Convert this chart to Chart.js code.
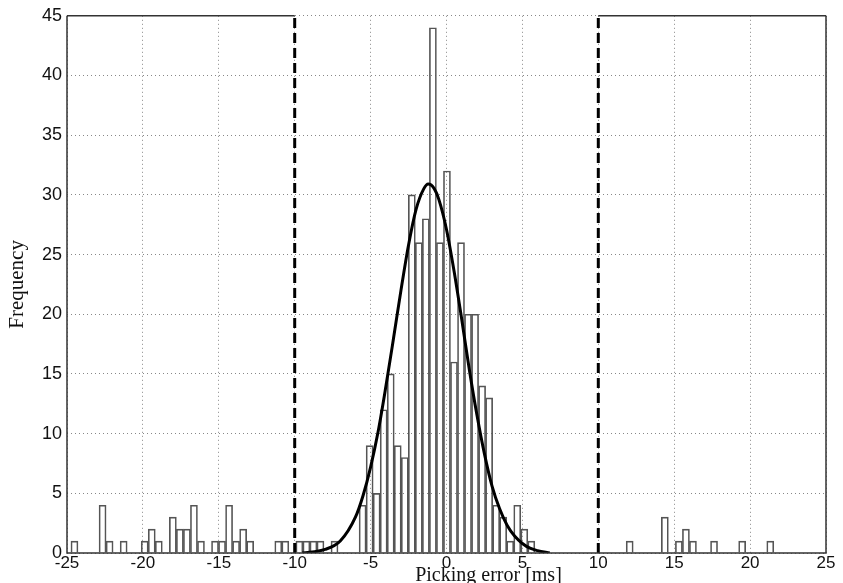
<!DOCTYPE html>
<html><head><meta charset="utf-8">
<script src="https://cdn.jsdelivr.net/npm/chart.js@4/dist/chart.umd.min.js"></script>
<style>html,body{margin:0;padding:0;background:#fff;}</style>
</head><body>
<canvas id="c" width="843" height="583"></canvas>
<script>
// Histogram definition (100 bins) and counts
const histStart = -24.74;
const binWidth = 0.463;
const counts = [
  1,0,0,0,4,1,0,1,0,0,
  1,2,1,0,3,2,2,4,1,0,
  1,1,4,1,2,1,0,0,0,1,
  1,0,1,1,1,1,0,1,0,0,
  0,4,9,5,12,15,9,8,30,26,
  28,44,26,32,16,26,20,20,14,13,
  4,3,1,4,2,1,0,0,0,0,
  0,0,0,0,0,0,0,0,0,1,
  0,0,0,0,3,0,1,2,1,0,
  0,1,0,0,0,1,0,0,0,1
];
// Fitted curve, points
const curveX = [-9.5,-8,-7,-6,-5.5,-5,-4.5,-4,-3.5,-3,-2.5,-2,-1.5,-1.2,-0.8,-0.5,0,0.5,1,1.5,2,2.5,3,3.5,4,4.5,5,5.5,6,6.8];
const curveY = [0.0,0.3,1.0,3.0,4.8,7.2,10.2,13.9,17.9,22.0,25.8,28.8,30.5,30.9,30.5,29.6,27.1,23.6,19.6,15.4,11.6,8.3,5.6,3.7,2.3,1.4,0.8,0.4,0.2,0.0];
// Outlier thresholds (dashed lines)
const thresholds = [-10, 10];
const xRange = [-25, 25];
const yRange = [0, 45];
const tickStep = 5;
const xTitle = 'Picking error [ms]';
const yTitle = 'Frequency';

const barData = counts.map((c, k) => ({x: histStart + (k + 0.5) * binWidth, y: c === 0 ? null : c}));
const lineData = curveX.map((x, i) => ({x, y: curveY[i]}));
const threshSets = thresholds.map(t => ({
  type: 'line',
  data: [{x: t, y: yRange[0]}, {x: t, y: yRange[1]}],
  borderColor: '#000', borderWidth: 3, borderDash: [10, 5],
  pointRadius: 0, fill: false
}));

const framePlugin = {
  id: 'frame',
  afterDatasetsDraw(chart) {
    const {ctx, chartArea: a, scales: {x, y}} = chart;
    ctx.save();
    ctx.strokeStyle = '#333';
    ctx.lineWidth = 1.5;
    ctx.beginPath();
    ctx.moveTo(a.left, a.top); ctx.lineTo(a.left, a.bottom);
    ctx.lineTo(a.right, a.bottom); ctx.lineTo(a.right, a.top);
    ctx.moveTo(a.left, a.top); ctx.lineTo(x.getPixelForValue(thresholds[0]), a.top);
    ctx.moveTo(x.getPixelForValue(thresholds[1]), a.top); ctx.lineTo(a.right, a.top);
    ctx.stroke();
    ctx.font = '20px "Liberation Serif"';
    ctx.fillStyle = '#111';
    ctx.textAlign = 'center';
    ctx.textBaseline = 'alphabetic';
    ctx.fillText(xTitle, (a.left + a.right) / 2 + 42, 581);
    ctx.restore();
  }
};

new Chart(document.getElementById('c'), {
  type: 'bar',
  data: {
    datasets: [
      {
        type: 'bar', data: barData,
        backgroundColor: 'rgba(255,255,255,0)', borderColor: '#555', borderWidth: 1,
        borderSkipped: 'start', barPercentage: 1, categoryPercentage: 1, order: 3
      },
      {
        type: 'line', data: lineData, borderColor: '#000', borderWidth: 3,
        pointRadius: 0, fill: false, cubicInterpolationMode: 'monotone', order: 1
      },
      ...threshSets
    ]
  },
  options: {
    responsive: false, animation: false, devicePixelRatio: 1,
    layout: {padding: {top: 15, right: 17, left: 0, bottom: 0}},
    plugins: {legend: {display: false}, tooltip: {enabled: false}},
    scales: {
      x: {
        type: 'linear', min: xRange[0], max: xRange[1], offset: false,
        ticks: {stepSize: tickStep, autoSkip: false, maxRotation: 0, padding: 0,
                font: {family: 'Liberation Sans', size: 17}, color: '#111'},
        grid: {color: '#888', lineWidth: 1, drawTicks: false, offset: false},
        border: {display: false, dash: [1, 3]},
        afterFit(s) { s.height = 30; }
      },
      y: {
        min: yRange[0], max: yRange[1],
        ticks: {stepSize: tickStep, padding: 5,
                font: {family: 'Liberation Sans', size: 18}, color: '#111'},
        grid: {color: '#888', lineWidth: 1, drawTicks: false},
        border: {display: false, dash: [1, 3]},
        title: {display: true, text: yTitle, color: '#111',
                font: {family: 'Liberation Serif', size: 21}, padding: {top: 5, bottom: 0}},
        afterFit(s) { s.width = 67; }
      }
    }
  },
  plugins: [framePlugin]
});
</script>
</body></html>
